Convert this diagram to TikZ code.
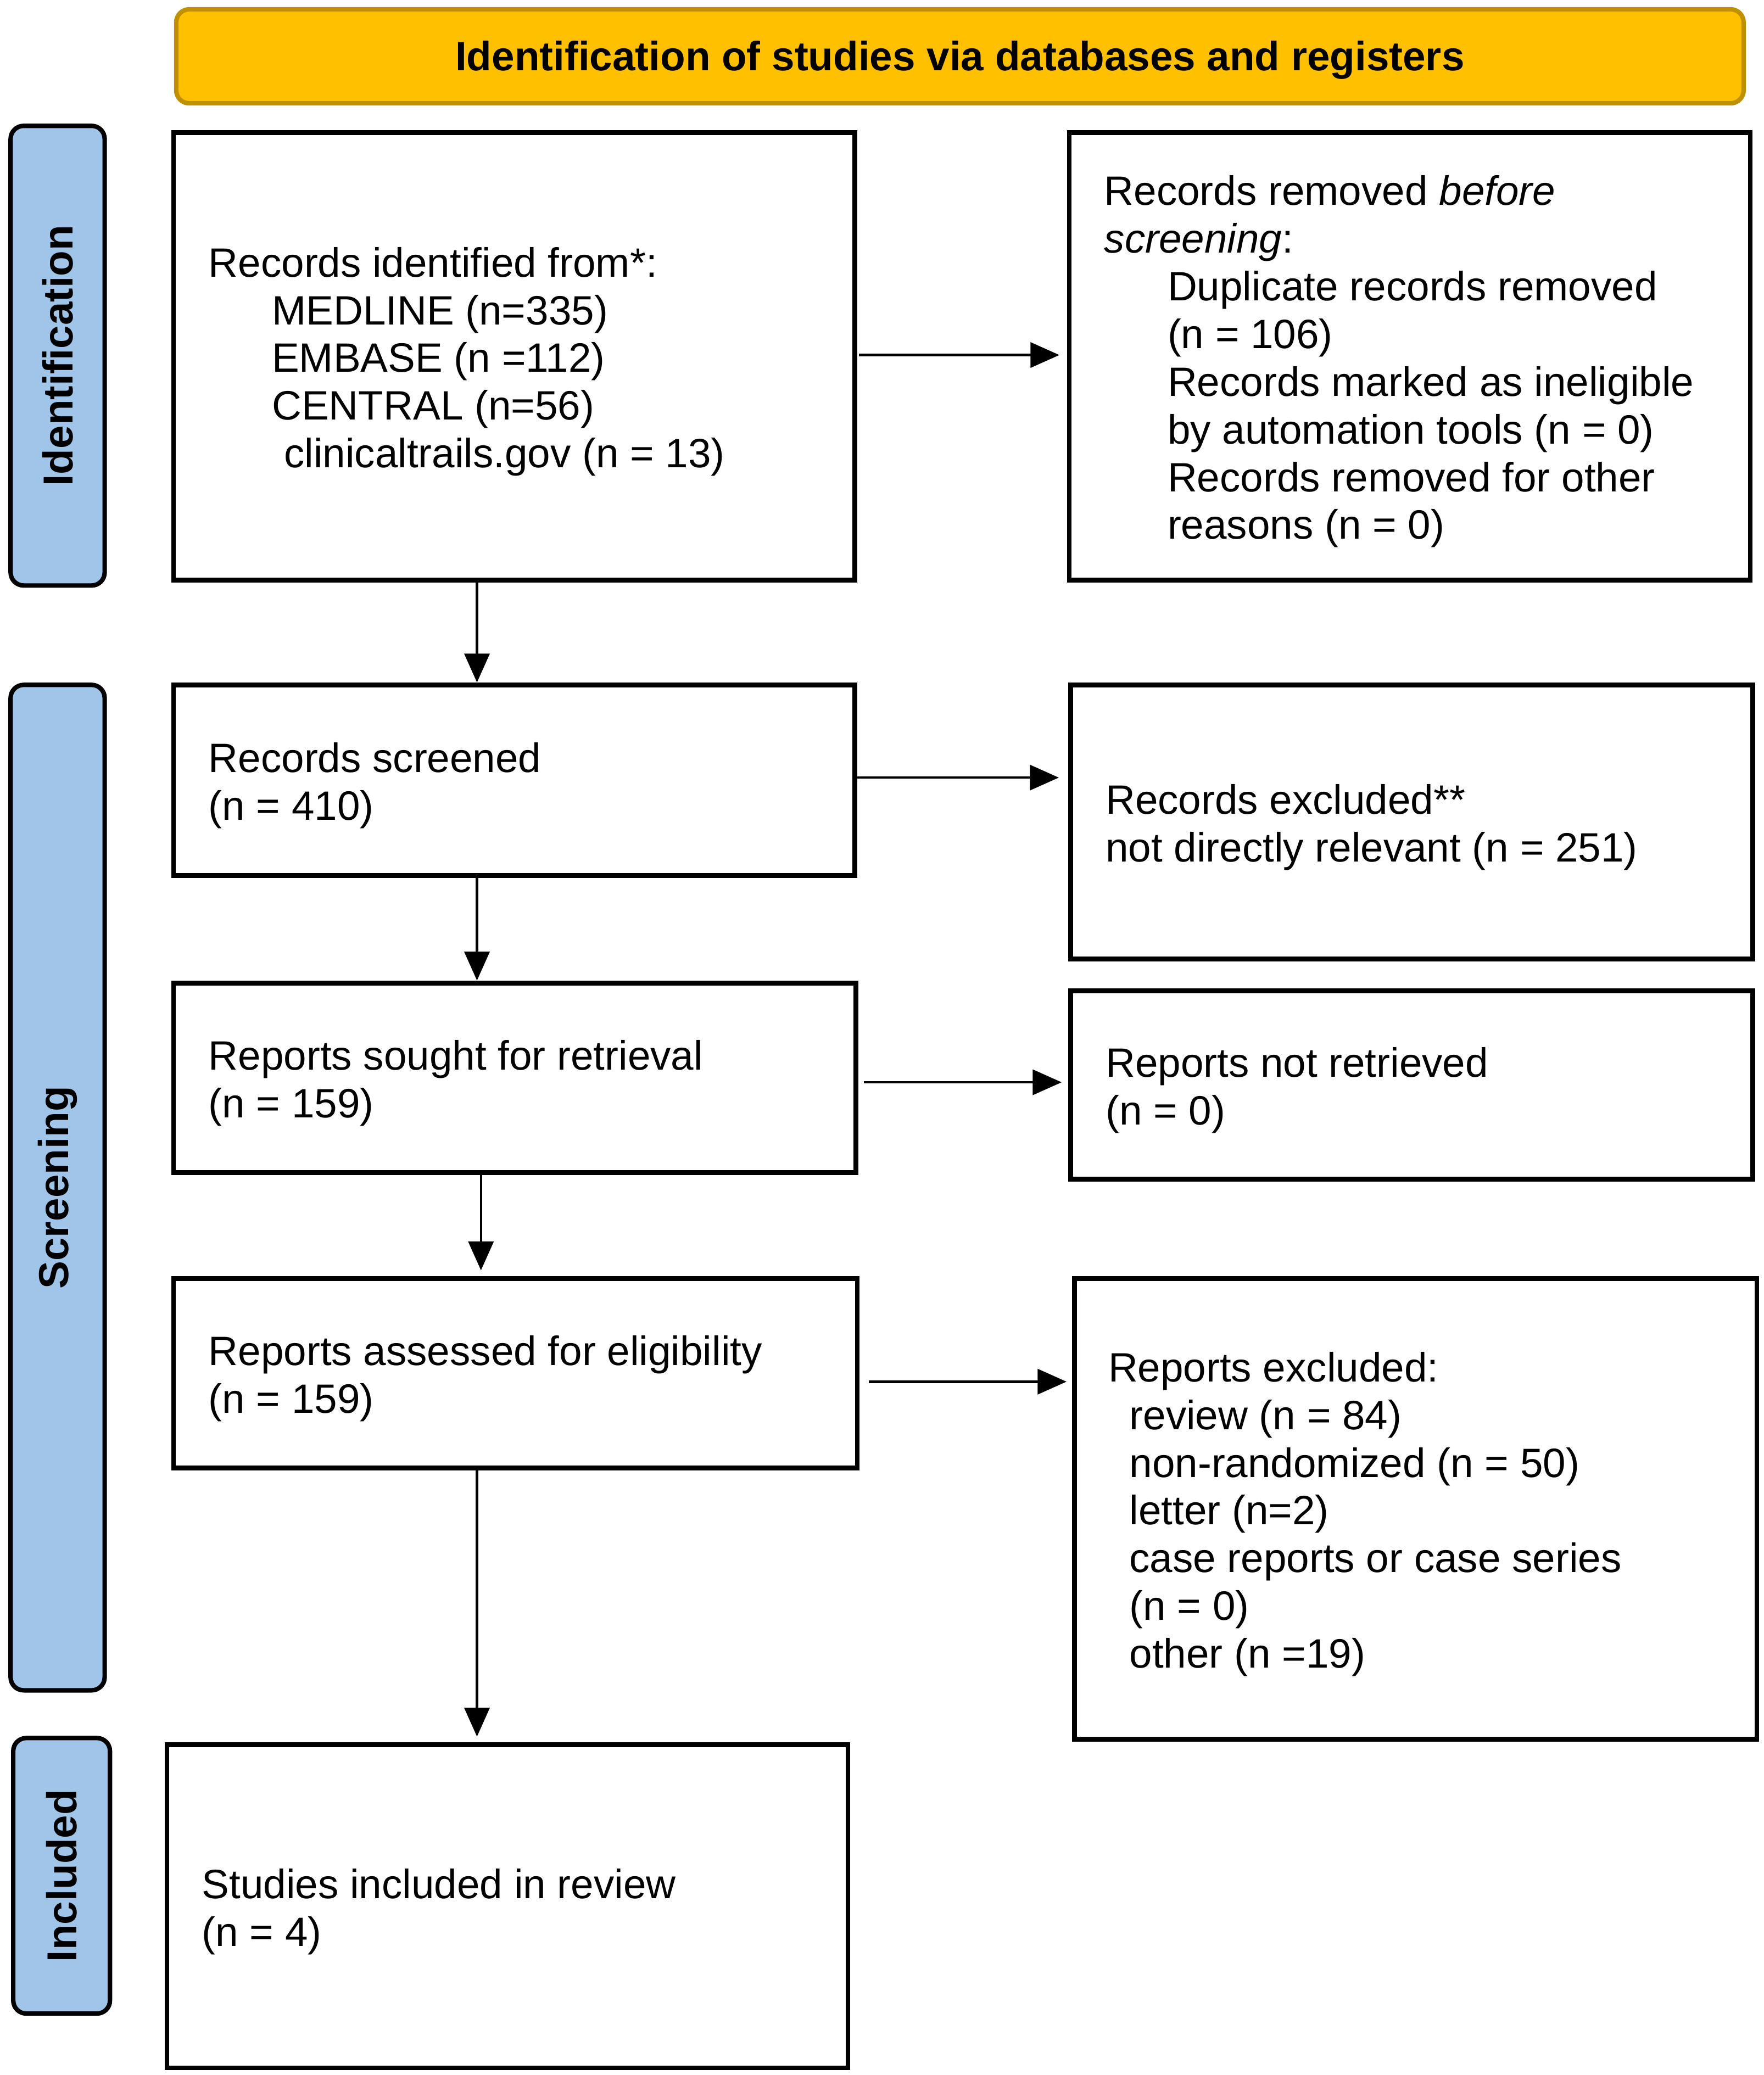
\documentclass[tikz,border=0pt]{standalone}
\usepackage{fontspec}
\setmainfont{Liberation Sans}
\usetikzlibrary{arrows.meta,calc,fit}
\definecolor{hdrfill}{HTML}{FFC000}
\definecolor{hdrline}{HTML}{BF9000}
\definecolor{sidefill}{HTML}{A0C5E8}
\begin{document}
\begin{tikzpicture}[x=0.025cm,y=-0.025cm,
  boxframe/.style={draw, line width=2.6pt, rectangle, inner sep=0pt},
  txt/.style={anchor=west, align=left, inner sep=0pt, font=\fontsize{22}{25.6}\selectfont},
  sidebar/.style={draw=black, fill=sidefill, line width=2.4pt, rounded corners=7pt, inner sep=0pt},
  sidelabel/.style={rotate=90, inner sep=0pt, font=\fontsize{22.5}{26}\selectfont\bfseries},
  arr/.style={line width=1.3pt, -{Triangle[length=15.5pt,width=13.5pt]}}]
\useasboundingbox (0,0) rectangle (1331,1566.4);

% header
\node[draw=hdrline, fill=hdrfill, line width=2.4pt, rounded corners=7pt, inner sep=0pt, fit={(133,7)(1316,78)}] (hdr) {};
\node[inner sep=0pt, font=\fontsize{22}{26}\selectfont\bfseries] (hdrtxt) at ($(hdr.center)+(0,3)$) {Identification of studies via databases and registers};

% side bars
\node[sidebar, fit={(8,95)(79,442)}] (sid) {};
\node[sidelabel] (sidt) at (sid.center) {Identification};
\node[sidebar, fit={(8,517)(79,1276)}] (sscr) {};
\node[sidelabel] (sscrt) at (sscr.center) {Screening};
\node[sidebar, fit={(10,1312)(83,1520)}] (sinc) {};
\node[sidelabel] (sinct) at (sinc.center) {Included};

% boxes
\node[boxframe, fit={(131,100)(645,438)}] (b1) {};
\node[txt] (b1t) at ($(b1.west)+(28,4)$) {Records identified from*:\\
\hspace*{34pt}MEDLINE (n=335)\\
\hspace*{34pt}EMBASE (n =112)\\
\hspace*{34pt}CENTRAL (n=56)\\
\hspace*{40.5pt}clinicaltrails.gov (n = 13)};

\node[boxframe, fit={(807,100)(1321,438)}] (r1) {};
\node[txt] (r1t) at ($(r1.west)+(28,4)$) {Records removed \textit{before}\\
\textit{screening}:\\
\hspace*{34pt}Duplicate records removed\\
\hspace*{34pt}(n = 106)\\
\hspace*{34pt}Records marked as ineligible\\
\hspace*{34pt}by automation tools (n = 0)\\
\hspace*{34pt}Records removed for other\\
\hspace*{34pt}reasons (n = 0)};

\node[boxframe, fit={(131,517)(645,661)}] (scr) {};
\node[txt] (scrt) at ($(scr.west)+(28,4)$) {Records screened\\(n = 410)};

\node[boxframe, fit={(808,517)(1323,724)}] (exc) {};
\node[txt] (exct) at ($(exc.west)+(28,4)$) {Records excluded**\\not directly relevant (n = 251)};

\node[boxframe, fit={(131,742)(646,885)}] (sou) {};
\node[txt] (sout) at ($(sou.west)+(28,4)$) {Reports sought for retrieval\\(n = 159)};

\node[boxframe, fit={(808,748)(1323,890)}] (nret) {};
\node[txt] (nrett) at ($(nret.west)+(28,4)$) {Reports not retrieved\\(n = 0)};

\node[boxframe, fit={(131,965)(647,1108)}] (ass) {};
\node[txt] (asst) at ($(ass.west)+(28,4)$) {Reports assessed for eligibility\\(n = 159)};

\node[boxframe, fit={(811,965)(1326,1313)}] (rexc) {};
\node[txt] (rexct) at ($(rexc.west)+(27,4)$) {Reports excluded:\\
\hspace*{11.4pt}review (n = 84)\\
\hspace*{11.4pt}non-randomized (n = 50)\\
\hspace*{11.4pt}letter (n=2)\\
\hspace*{11.4pt}case reports or case series\\
\hspace*{11.4pt}(n = 0)\\
\hspace*{11.4pt}other (n =19)};

\node[boxframe, fit={(126,1317)(640,1561)}] (inc) {};
\node[txt] (inct) at ($(inc.west)+(28,4)$) {Studies included in review\\(n = 4)};

% connectors
\coordinate (xa) at (360,0);
\coordinate (xb) at (363,0);
\coordinate (ya) at (0,268);
\coordinate (yb) at (0,587);
\coordinate (yc) at (0,817);
\coordinate (yd) at (0,1043);

\draw[arr, shorten <=1pt, shorten >=4pt] (b1.east |- ya) -- (r1.west |- ya);
\draw[arr, shorten >=5pt] (scr.east |- yb) -- (exc.west |- yb);
\draw[arr, shorten <=3pt, shorten >=3.5pt] (sou.east |- yc) -- (nret.west |- yc);
\draw[arr, shorten <=5pt, shorten >=3pt] (ass.east |- yd) -- (rexc.west |- yd);

\draw[arr] (b1.south -| xa) -- (scr.north -| xa);
\draw[arr] (scr.south -| xa) -- (sou.north -| xa);
\draw[arr, shorten >=3pt] (sou.south -| xb) -- (ass.north -| xb);
\draw[arr, shorten >=3pt] (ass.south -| xa) -- (inc.north -| xa);
\end{tikzpicture}
\end{document}
